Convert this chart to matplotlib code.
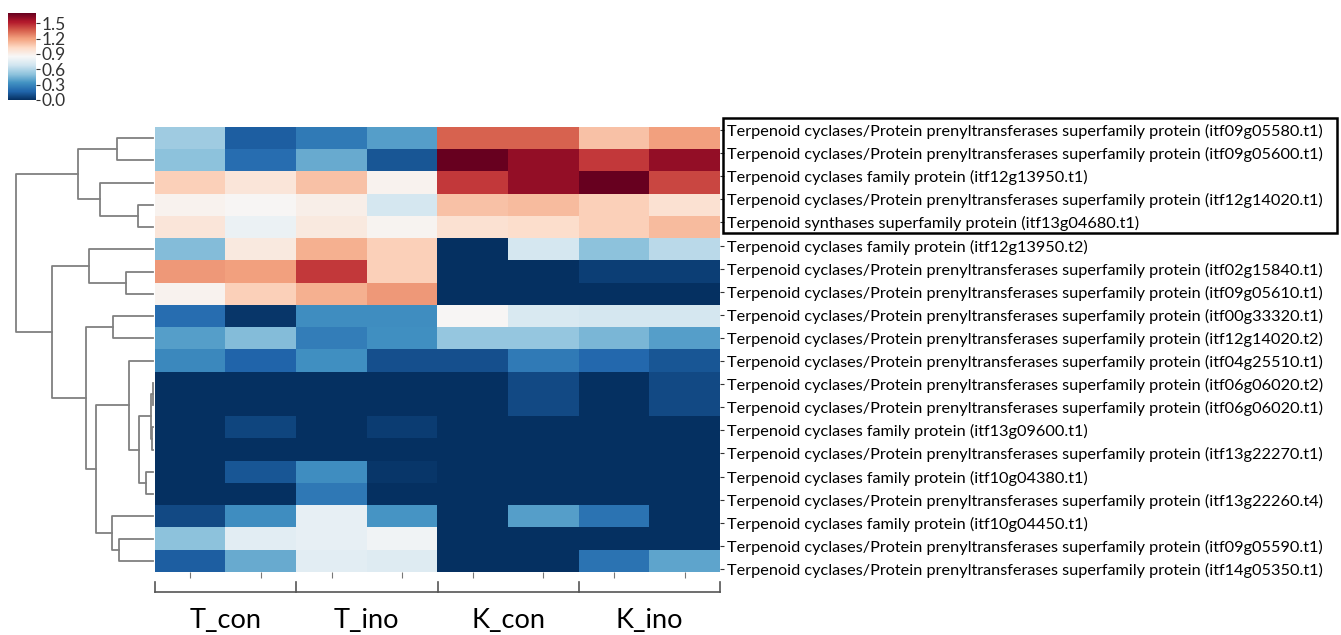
import numpy as np
import matplotlib
matplotlib.use('Agg')
import matplotlib.pyplot as plt
from matplotlib.patches import Rectangle

W, H = 1341, 635

# row labels, top to bottom (clustered order)
genes = [
    'Terpenoid cyclases/Protein prenyltransferases superfamily protein (itf09g05580.t1)',
    'Terpenoid cyclases/Protein prenyltransferases superfamily protein (itf09g05600.t1)',
    'Terpenoid cyclases family protein (itf12g13950.t1)',
    'Terpenoid cyclases/Protein prenyltransferases superfamily protein (itf12g14020.t1)',
    'Terpenoid synthases superfamily protein (itf13g04680.t1)',
    'Terpenoid cyclases family protein (itf12g13950.t2)',
    'Terpenoid cyclases/Protein prenyltransferases superfamily protein (itf02g15840.t1)',
    'Terpenoid cyclases/Protein prenyltransferases superfamily protein (itf09g05610.t1)',
    'Terpenoid cyclases/Protein prenyltransferases superfamily protein (itf00g33320.t1)',
    'Terpenoid cyclases/Protein prenyltransferases superfamily protein (itf12g14020.t2)',
    'Terpenoid cyclases/Protein prenyltransferases superfamily protein (itf04g25510.t1)',
    'Terpenoid cyclases/Protein prenyltransferases superfamily protein (itf06g06020.t2)',
    'Terpenoid cyclases/Protein prenyltransferases superfamily protein (itf06g06020.t1)',
    'Terpenoid cyclases family protein (itf13g09600.t1)',
    'Terpenoid cyclases/Protein prenyltransferases superfamily protein (itf13g22270.t1)',
    'Terpenoid cyclases family protein (itf10g04380.t1)',
    'Terpenoid cyclases/Protein prenyltransferases superfamily protein (itf13g22260.t4)',
    'Terpenoid cyclases family protein (itf10g04450.t1)',
    'Terpenoid cyclases/Protein prenyltransferases superfamily protein (itf09g05590.t1)',
    'Terpenoid cyclases/Protein prenyltransferases superfamily protein (itf14g05350.t1)',
]

groups = ['T_con', 'T_ino', 'K_con', 'K_ino']

# expression values, 2 replicates per group
values = np.array([
    [0.55, 0.15, 0.25, 0.38, 1.35, 1.35, 1.10, 1.20],
    [0.50, 0.20, 0.42, 0.12, 1.70, 1.60, 1.45, 1.60],
    [1.05, 0.95, 1.10, 0.88, 1.45, 1.60, 1.70, 1.42],
    [0.88, 0.86, 0.90, 0.70, 1.10, 1.12, 1.05, 0.98],
    [0.95, 0.80, 0.93, 0.87, 0.98, 1.00, 1.05, 1.12],
    [0.48, 0.93, 1.15, 1.05, 0.00, 0.70, 0.50, 0.62],
    [1.22, 1.20, 1.45, 1.05, 0.00, 0.00, 0.05, 0.05],
    [0.88, 1.05, 1.15, 1.22, 0.00, 0.00, 0.00, 0.00],
    [0.20, 0.02, 0.32, 0.32, 0.86, 0.72, 0.70, 0.70],
    [0.38, 0.48, 0.26, 0.33, 0.52, 0.52, 0.46, 0.38],
    [0.30, 0.17, 0.33, 0.10, 0.10, 0.25, 0.18, 0.12],
    [0.00, 0.00, 0.00, 0.00, 0.00, 0.08, 0.00, 0.08],
    [0.00, 0.00, 0.00, 0.00, 0.00, 0.08, 0.00, 0.08],
    [0.00, 0.07, 0.00, 0.04, 0.00, 0.00, 0.00, 0.00],
    [0.00, 0.00, 0.00, 0.00, 0.00, 0.00, 0.00, 0.00],
    [0.00, 0.12, 0.32, 0.02, 0.00, 0.00, 0.00, 0.00],
    [0.00, 0.00, 0.24, 0.00, 0.00, 0.00, 0.00, 0.00],
    [0.08, 0.32, 0.78, 0.35, 0.00, 0.38, 0.22, 0.00],
    [0.50, 0.76, 0.78, 0.82, 0.00, 0.00, 0.00, 0.00],
    [0.15, 0.42, 0.76, 0.74, 0.00, 0.00, 0.22, 0.40],
])

# row linkage: (left id, right id, height); leaves are 0..19, merges get 20, 21, ...
merges = [
    (0, 1, 36), (3, 4, 15), (2, 21, 53), (20, 22, 75),
    (6, 7, 27), (5, 24, 64), (8, 9, 40),
    (11, 12, 0.5), (13, 14, 1), (27, 28, 2), (15, 16, 7), (29, 30, 14),
    (10, 31, 24), (18, 19, 34), (17, 33, 41), (32, 34, 57),
    (26, 35, 67), (25, 36, 101), (23, 37, 137),
]

vmin, vmax = 0.0, 1.7


def fx(px):
    return px / W


def fy(py):
    return 1 - py / H


fig = plt.figure(figsize=(W / 100, H / 100), dpi=100)
plt.rcParams['font.family'] = ['Lato', 'DejaVu Sans']

hm_l, hm_r, hm_t, hm_b = 155, 720, 127, 572
ax = fig.add_axes([fx(hm_l), fy(hm_b), fx(hm_r - hm_l), (hm_b - hm_t) / H])
im = ax.imshow(values, cmap='RdBu_r', vmin=vmin, vmax=vmax, aspect='auto',
               interpolation='nearest')
for s in ax.spines.values():
    s.set_visible(False)
ax.set_yticks([])
ax.set_xticks(range(values.shape[1]))
ax.set_xticklabels([''] * values.shape[1])
ax.tick_params(axis='x', length=4, width=0.8, color='#777777')

# row labels sit on their own strip (spacing in the source is a bit wider than the rows)
lab_t, lab_b = 118.5, 580.5
lax = fig.add_axes([fx(hm_l), fy(lab_b), fx(hm_r - hm_l), (lab_b - lab_t) / H])
lax.patch.set_visible(False)
for s in lax.spines.values():
    s.set_visible(False)
lax.set_xticks([])
lax.set_ylim(len(genes) - 0.5, -0.5)
lax.yaxis.tick_right()
lax.set_yticks(range(len(genes)))
lax.set_yticklabels(genes, fontsize=11.7)
lax.tick_params(axis='y', length=3, width=0.8, pad=2, color='#333333')

# group brackets under the columns
tr = ax.get_xaxis_transform()
yb, yu = -20 / 445, -10 / 445
ax.plot([-0.5, 7.5], [yb, yb], transform=tr, clip_on=False, color='#555555', lw=1.2)
for k in range(len(groups) + 1):
    ax.plot([2 * k - 0.5, 2 * k - 0.5], [yb, yu], transform=tr, clip_on=False,
            color='#555555', lw=1.2)
for k, g in enumerate(groups):
    ax.text(2 * k + 0.5, -48 / 445, g, transform=tr, ha='center', va='center',
            fontsize=19.5)

# dendrogram
dax = fig.add_axes([fx(10), fy(hm_b), fx(hm_l - 10), (hm_b - hm_t) / H])
n = len(genes)
pos = {i: (float(i), 0.0) for i in range(n)}
for k, (a, b, h) in enumerate(merges):
    ya, ha = pos[a]
    yb2, hb = pos[b]
    dax.plot([ha, h, h, hb], [ya, ya, yb2, yb2], color='#808080', lw=1.3)
    pos[n + k] = ((ya + yb2) / 2, h)
dax.set_xlim(143, -2)
dax.set_ylim(n - 0.5, -0.5)
dax.axis('off')

# colorbar
cax = fig.add_axes([fx(8), fy(100), fx(28), 87 / H])
cb = fig.colorbar(im, cax=cax, ticks=[0.0, 0.3, 0.6, 0.9, 1.2, 1.5])
cb.outline.set_visible(False)
cb.ax.tick_params(labelsize=12.5, length=3, pad=1, labelcolor='#333333',
                  color='#333333')
cb.ax.set_yticklabels(['0.0', '0.3', '0.6', '0.9', '1.2', '1.5'])

# box around first cluster labels
fig.patches.append(Rectangle((fx(723), fy(233)), fx(1337 - 723), (233 - 118) / H,
                             transform=fig.transFigure, fill=False,
                             edgecolor='black', lw=1.8))

fig.savefig('out.png', dpi=100)
